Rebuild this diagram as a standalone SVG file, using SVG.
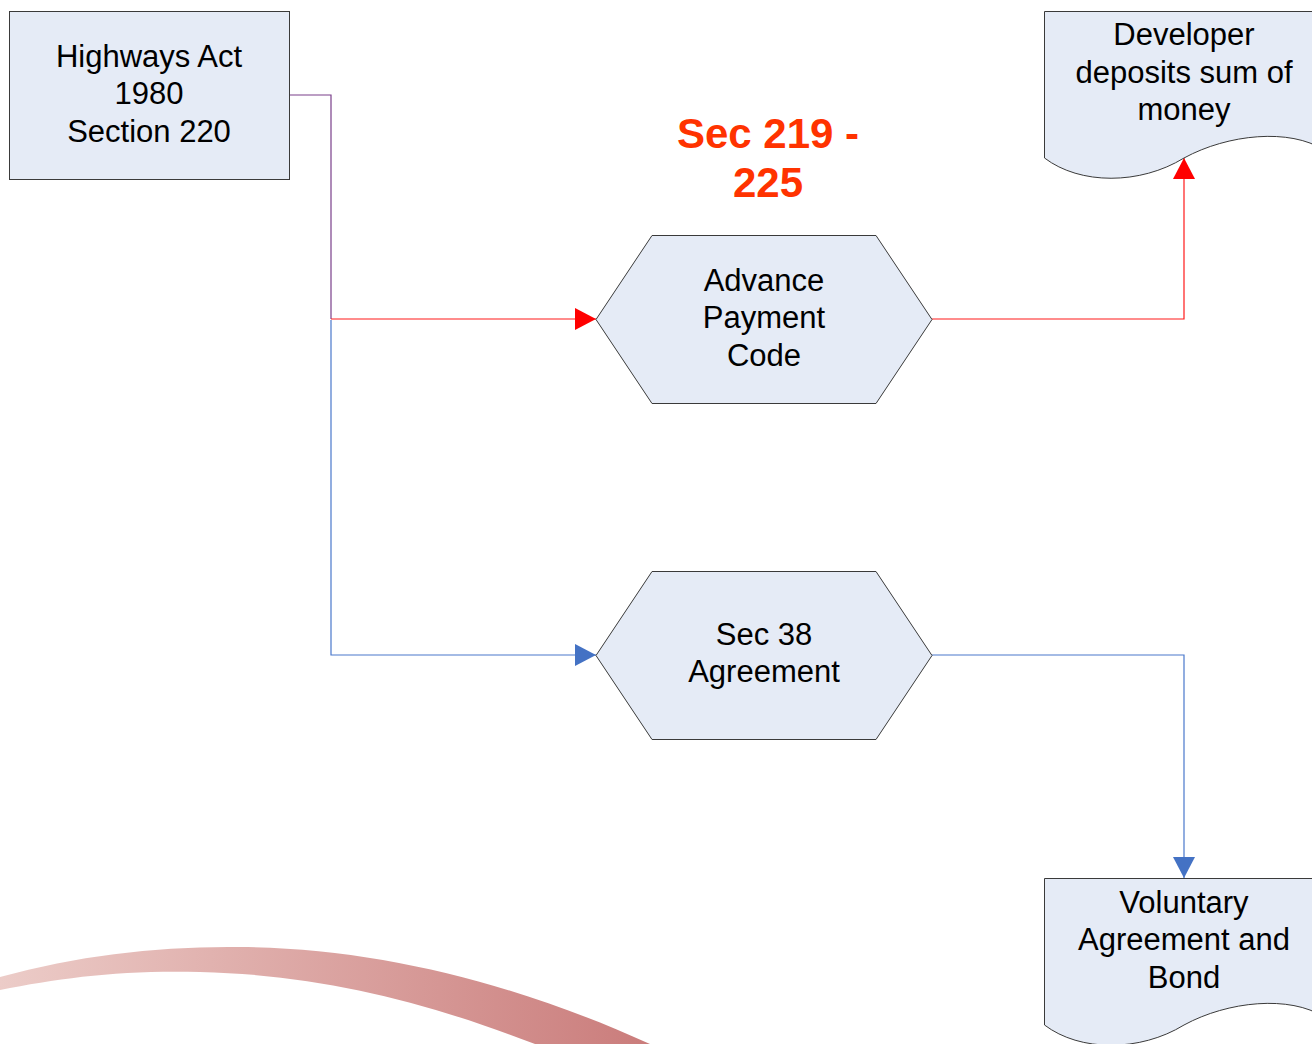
<svg xmlns="http://www.w3.org/2000/svg" width="1312" height="1044" viewBox="0 0 1312 1044">
<defs>
<linearGradient id="swooshGrad" gradientUnits="userSpaceOnUse" x1="0" y1="0" x2="650" y2="0">
<stop offset="0" stop-color="#ecccc8"/>
<stop offset="1" stop-color="#ca7c7b"/>
</linearGradient>
<marker id="arrowRed" markerUnits="userSpaceOnUse" markerWidth="22" markerHeight="22" refX="21" refY="11" orient="auto">
<path d="M0,0 L21,11 L0,22 Z" fill="#ff0000"/>
</marker>
<marker id="arrowBlue" markerUnits="userSpaceOnUse" markerWidth="22" markerHeight="22" refX="21" refY="11" orient="auto">
<path d="M0,0 L21,11 L0,22 Z" fill="#4472c4"/>
</marker>
</defs>
<style>
.shape { fill: #e5ebf6; stroke: #3a3a3a; stroke-width: 1; }
.label { font-family: "Liberation Sans", Arial, sans-serif; font-size: 31px; fill: #000000; text-anchor: middle; }
.title { font-family: "Liberation Sans", Arial, sans-serif; font-size: 42px; font-weight: bold; fill: #ff3300; text-anchor: middle; }
</style>
<rect x="0" y="0" width="1312" height="1044" fill="#ffffff"/>
<path id="swoosh" d="M0,977 C80,955 160,946 240,947 C380,948 520,985 650,1044 L535,1044 C420,1000 320,975 200,972 C120,970 60,978 0,990 Z" fill="url(#swooshGrad)"/>
<g id="connectors" fill="none" stroke-width="1.2">
<path d="M289,95 L331,95 L331,319" stroke="#7a3f8a"/>
<path d="M331,319 L596,319" stroke="#ff1a1a" marker-end="url(#arrowRed)"/>
<path d="M331,320 L331,655 L596,655" stroke="#4a78cc" marker-end="url(#arrowBlue)"/>
<path d="M932,319 L1184,319 L1184,158" stroke="#ff1a1a" marker-end="url(#arrowRed)"/>
<path d="M932,655 L1184,655 L1184,878" stroke="#4a78cc" marker-end="url(#arrowBlue)"/>
</g>
<g id="highways">
<rect class="shape" x="9.5" y="11.5" width="280" height="168"/>
<text class="label" x="149" y="67">Highways Act</text>
<text class="label" x="149" y="104">1980</text>
<text class="label" x="149" y="142">Section 220</text>
</g>
<g id="sec-title">
<text class="title" x="768" y="148">Sec 219 -</text>
<text class="title" x="768" y="197">225</text>
</g>
<g id="advance">
<polygon class="shape" points="596,319.5 652,235.5 876,235.5 932,319.5 876,403.5 652,403.5"/>
<text class="label" x="764" y="291">Advance</text>
<text class="label" x="764" y="328">Payment</text>
<text class="label" x="764" y="366">Code</text>
</g>
<g id="sec38">
<polygon class="shape" points="596,655.5 652,571.5 876,571.5 932,655.5 876,739.5 652,739.5"/>
<text class="label" x="764" y="645">Sec 38</text>
<text class="label" x="764" y="682">Agreement</text>
</g>
<g id="developer">
<path class="shape" d="M1044.5,158 L1044.5,11.5 L1324,11.5 L1324,150 C1290,128 1228,134 1184,158 C1140,185 1080,185 1044.5,158 Z"/>
<text class="label" x="1184" y="45">Developer</text>
<text class="label" x="1184" y="83">deposits sum of</text>
<text class="label" x="1184" y="120">money</text>
</g>
<g id="voluntary">
<path class="shape" d="M1044.5,1025 L1044.5,878.5 L1324,878.5 L1324,1017 C1290,995 1228,1001 1184,1025 C1140,1052 1080,1052 1044.5,1025 Z"/>
<text class="label" x="1184" y="913">Voluntary</text>
<text class="label" x="1184" y="950">Agreement and</text>
<text class="label" x="1184" y="988">Bond</text>
</g>
</svg>
